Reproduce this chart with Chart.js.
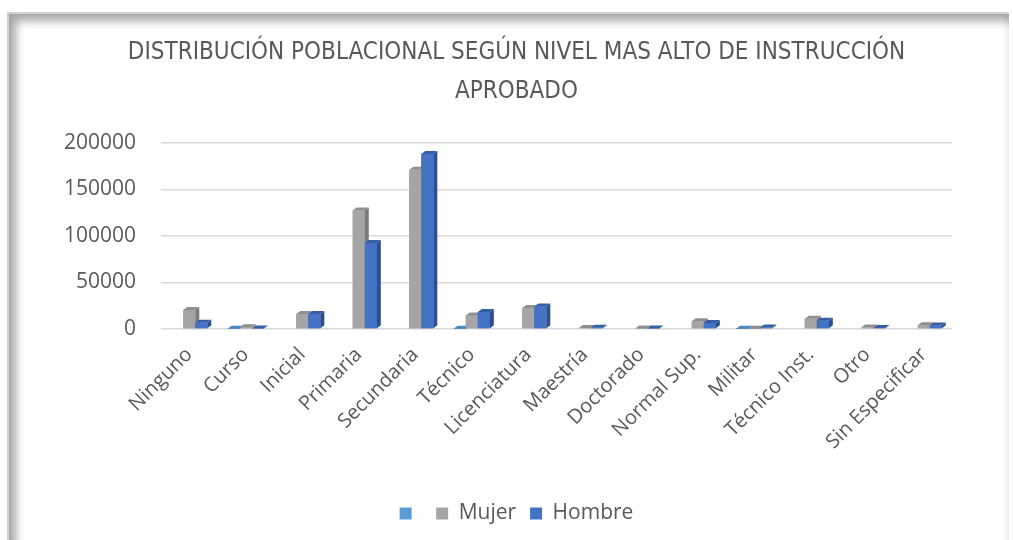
<!DOCTYPE html>
<html>
<head>
<meta charset="utf-8">
<script src="https://cdn.jsdelivr.net/npm/chart.js@4/dist/chart.umd.min.js"></script>
<style>
body { margin: 0; background: #fff; }
#marco {
    position: absolute; left: 7px; top: 12px; width: 1000px; height: 535px;
    border-left: 2px solid #d2d2d2; border-top: 2px solid #d2d2d2;
    box-shadow: inset 7px 7px 10px rgba(0,0,0,0.35), inset -3px -3px 6px rgba(0,0,0,0.07);
    background: #fff;
}
#caja { position: absolute; left: 0; top: 0; width: 1013px; height: 540px; }
</style>
</head>
<body>
<div id="marco"></div>
<div id="caja"><canvas id="grafico" width="1013" height="540"></canvas></div>
<script>
var categorias = ['Ninguno', 'Curso', 'Inicial', 'Primaria', 'Secundaria', 'Técnico', 'Licenciatura',
    'Maestría', 'Doctorado', 'Normal Sup.', 'Militar', 'Técnico Inst.', 'Otro', 'Sin Especificar']
var serievacia = [null, 300, null, null, null, 300, null, null, null, null, 300, null, null, null]
var mujer = [20400, 1800, 16100, 127200, 171000, 14600, 22600, 1200, 500, 8200, 300, 11000, 1500, 3900]
var hombre = [6800, 600, 16100, 92500, 188000, 18300, 24300, 1400, 600, 6500, 1500, 8900, 1200, 3700]
var ticksy = [0, 50000, 100000, 150000, 200000]

var gris = '#595959'

// caras de arriba y del costado para el efecto 3D
var barras3d = {
    id: 'barras3d',
    afterDatasetsDraw: function(chart) {
        var ctx = chart.ctx
        var dx = 4, dy = 3
        ctx.save()
        for (var i = 0; i < chart.data.labels.length; i++) {
            chart.data.datasets.forEach(function(ds, d) {
                var el = chart.getDatasetMeta(d).data[i]
                if (!el || ds.data[i] == null) return
                var p = el.getProps(['x', 'y', 'base', 'width'], true)
                var l = p.x - p.width / 2, r = p.x + p.width / 2
                ctx.fillStyle = ds.backgroundColor
                ctx.fillRect(l, p.y, p.width, p.base - p.y)
                ctx.fillStyle = ds.colorarriba
                ctx.beginPath()
                ctx.moveTo(l, p.y); ctx.lineTo(l + dx, p.y - dy); ctx.lineTo(r + dx, p.y - dy); ctx.lineTo(r, p.y)
                ctx.closePath(); ctx.fill()
                ctx.fillStyle = ds.colorlado
                ctx.beginPath()
                ctx.moveTo(r, p.y); ctx.lineTo(r + dx, p.y - dy); ctx.lineTo(r + dx, p.base - dy); ctx.lineTo(r, p.base)
                ctx.closePath(); ctx.fill()
            })
        }
        ctx.restore()
    }
}

var ctx = document.getElementById('grafico').getContext('2d')
var grafico = new Chart(ctx, {
    type: 'bar',
    data: {
        labels: categorias,
        datasets: [
            { label: '', data: serievacia, backgroundColor: '#5B9BD5', colorarriba: '#4a86c0', colorlado: '#3d74a8' },
            { label: 'Mujer', data: mujer, backgroundColor: '#A5A5A5', colorarriba: '#8f8f8f', colorlado: '#7a7a7a' },
            { label: 'Hombre', data: hombre, backgroundColor: '#4472C4', colorarriba: '#365fa8', colorlado: '#2c4f8f' }
        ]
    },
    options: {
        responsive: false,
        animation: false,
        categoryPercentage: 0.64,
        barPercentage: 1,
        layout: { padding: { top: 34, left: 20, right: 0, bottom: 6 } },
        scales: {
            x: {
                grid: { display: false },
                border: { display: false },
                ticks: {
                    autoSkip: false, minRotation: 45, maxRotation: 45, padding: 6,
                    color: gris, font: { family: 'Open Sans', size: 20 }
                },
                afterFit: function(scale) { scale.height = 160 }
            },
            y: {
                min: 0, max: 200000,
                afterBuildTicks: function(scale) { scale.ticks = ticksy.map(function(v) { return { value: v } }) },
                grid: { color: '#d9d9d9', lineWidth: 1.5, drawTicks: false },
                border: { display: false },
                ticks: {
                    padding: 25, color: gris, font: { family: 'Open Sans', size: 21 },
                    callback: function(v) { return String(v) }
                },
                afterFit: function(scale) { scale.width = 141 }
            },
            // eje vacio a la derecha, solo deja el margen
            derecha: {
                position: 'right',
                grid: { display: false },
                border: { display: false },
                ticks: { display: false },
                afterFit: function(scale) { scale.width = 61 }
            }
        },
        plugins: {
            title: {
                display: true,
                text: ['DISTRIBUCIÓN POBLACIONAL SEGÚN NIVEL MAS ALTO DE INSTRUCCIÓN', 'APROBADO'],
                color: gris,
                font: { family: "'Liberation Sans Narrow', 'DejaVu Sans Condensed', sans-serif", size: 24, weight: 'normal', lineHeight: 1.6 },
                padding: { top: 0, bottom: 32 }
            },
            legend: {
                position: 'bottom',
                labels: { boxWidth: 12, boxHeight: 12, padding: 14, color: gris, font: { family: 'Open Sans', size: 21 } }
            },
            tooltip: { enabled: false }
        }
    },
    plugins: [barras3d]
})
</script>
</body>
</html>
